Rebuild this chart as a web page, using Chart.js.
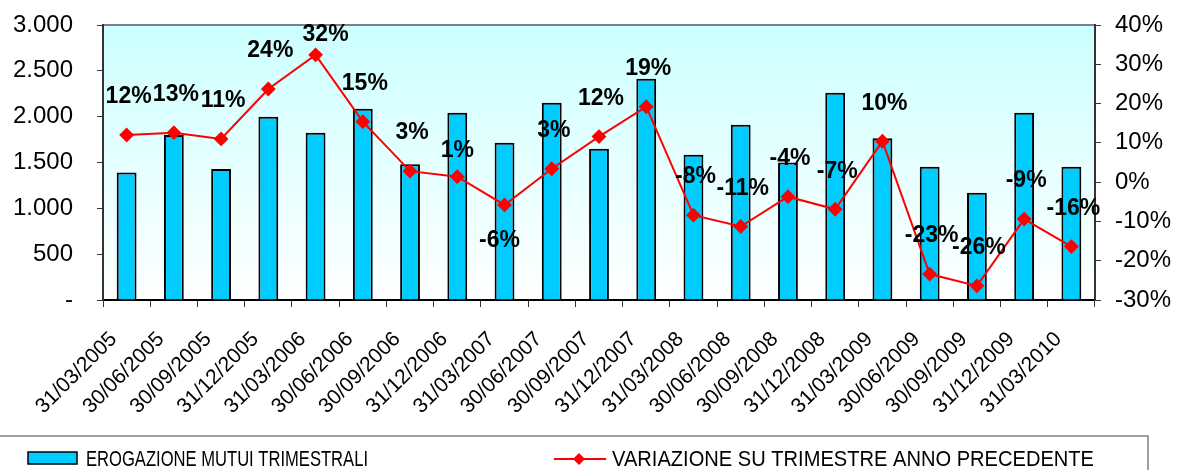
<!DOCTYPE html>
<html>
<head>
<meta charset="utf-8">
<script src="https://cdn.jsdelivr.net/npm/chart.js@4"></script>
<style>
  body { margin: 0; background: #fff; }
  #wrap { width: 1177px; height: 470px; }
</style>
</head>
<body>
<div id="wrap"><canvas id="chart"></canvas></div>
<script>
// dati
const trimestri = ["31/03/2005","30/06/2005","30/09/2005","31/12/2005","31/03/2006","30/06/2006",
  "30/09/2006","31/12/2006","31/03/2007","30/06/2007","30/09/2007","31/12/2007","31/03/2008",
  "30/06/2008","30/09/2008","31/12/2008","31/03/2009","30/06/2009","30/09/2009","31/12/2009","31/03/2010"];
const erogazioni = [1390, 1800, 1430, 2000, 1825, 2087, 1480, 2043, 1716, 2152, 1651, 2414, 1585,
  1912, 1500, 2261, 1764, 1455, 1171, 2043, 1455];
const variazioni = [12.0, 12.6, 11.0, 23.7, 32.4, 15.4, 2.8, 1.4, -5.8, 3.4, 11.6, 19.2, -8.4,
  -11.3, -3.7, -6.9, 10.4, -23.4, -26.4, -9.4, -16.4];
const tickSinistra = [0, 500, 1000, 1500, 2000, 2500, 3000];
const tickDestra = [-30, -20, -10, 0, 10, 20, 30, 40];

const nomeBarre = "EROGAZIONE MUTUI TRIMESTRALI";
const nomeLinea = "VARIAZIONE SU TRIMESTRE ANNO PRECEDENTE";

// spostamento etichette (default sopra il punto)
const spostaEtichetta = { 4: [10, -20], 7: [0, -26], 8: [-5, 36] };

function migliaia(v) {
  if (v === 0) return "-";
  return String(v).replace(/\B(?=(\d{3})+(?!\d))/g, ".");
}

// testo compresso in larghezza
function testoStretto(ctx, txt, x, y, larghezza) {
  const w = ctx.measureText(txt).width;
  ctx.save();
  ctx.translate(x, y);
  ctx.scale(larghezza / w, 1);
  ctx.fillText(txt, 0, 0);
  ctx.restore();
}

// sfondo area grafico
const sfondo = {
  id: "sfondo",
  beforeDraw(chart) {
    const { ctx, chartArea: a } = chart;
    const g = ctx.createLinearGradient(0, a.top, 0, a.bottom);
    g.addColorStop(0, "#CCFFFF");
    g.addColorStop(1, "#FFFFFF");
    ctx.save();
    ctx.fillStyle = g;
    ctx.fillRect(a.left, a.top, a.right - a.left, a.bottom - a.top);
    ctx.strokeStyle = "#808080";
    ctx.lineWidth = 2;
    ctx.beginPath();
    ctx.moveTo(a.left, a.top);
    ctx.lineTo(a.right, a.top);
    ctx.stroke();
    ctx.restore();
  }
};

// etichette percentuali
const etichette = {
  id: "etichette",
  afterDatasetsDraw(chart) {
    const { ctx } = chart;
    const meta = chart.getDatasetMeta(1);
    ctx.save();
    ctx.font = "bold 23px Arial, 'Liberation Sans', sans-serif";
    ctx.fillStyle = "#000";
    ctx.textAlign = "center";
    ctx.textBaseline = "middle";
    meta.data.forEach((p, i) => {
      const [dx, dy] = spostaEtichetta[i] || [2, -38];
      ctx.fillText(Math.round(variazioni[i]) + "%", p.x + dx, p.y + dy);
    });
    ctx.restore();
  }
};

// legenda in basso
const legenda = {
  id: "legenda",
  afterDraw(chart) {
    const { ctx } = chart;
    ctx.save();
    ctx.strokeStyle = "#808080";
    ctx.lineWidth = 1.5;
    ctx.beginPath();
    ctx.moveTo(0, 436);
    ctx.lineTo(1148, 436);
    ctx.lineTo(1148, 470);
    ctx.stroke();

    ctx.fillStyle = "#00CCFF";
    ctx.fillRect(28, 452, 49, 12);
    ctx.strokeStyle = "#000";
    ctx.lineWidth = 1.5;
    ctx.strokeRect(28, 452, 49, 12);

    ctx.strokeStyle = "#FF0000";
    ctx.lineWidth = 2;
    ctx.beginPath();
    ctx.moveTo(554, 459);
    ctx.lineTo(606, 459);
    ctx.stroke();
    ctx.fillStyle = "#FF0000";
    ctx.beginPath();
    ctx.moveTo(579, 453); ctx.lineTo(585, 459); ctx.lineTo(579, 465); ctx.lineTo(573, 459);
    ctx.closePath();
    ctx.fill();

    ctx.fillStyle = "#000";
    ctx.font = "22px Arial, 'Liberation Sans', sans-serif";
    ctx.textBaseline = "alphabetic";
    testoStretto(ctx, nomeBarre, 86, 466, 282);
    testoStretto(ctx, nomeLinea, 612, 466, 482);
    ctx.restore();
  }
};

function larghezzaFissa(w) {
  return s => { s.width = w; s.paddingTop = 0; s.paddingBottom = 0; };
}

new Chart(document.getElementById("chart"), {
  type: "bar",
  data: {
    labels: trimestri,
    datasets: [
      { type: "bar", label: nomeBarre, data: erogazioni, yAxisID: "y",
        backgroundColor: "#00CCFF", borderColor: "#000", borderWidth: 2,
        barPercentage: 0.42, categoryPercentage: 1, order: 2 },
      { type: "line", label: nomeLinea, data: variazioni, yAxisID: "y1",
        borderColor: "#FF0000", borderWidth: 2, pointStyle: "rectRot",
        pointRadius: 6, pointBackgroundColor: "#FF0000", pointBorderColor: "#FF0000",
        tension: 0, order: 1 }
    ]
  },
  options: {
    responsive: true,
    maintainAspectRatio: false,
    animation: false,
    layout: { padding: { top: 25 } },
    plugins: { legend: { display: false }, tooltip: { enabled: false } },
    scales: {
      x: {
        afterFit: s => { s.height = 170; s.paddingLeft = 0; s.paddingRight = 0; },
        grid: { offset: true, drawOnChartArea: false, tickLength: 7, color: "#333", lineWidth: 1 },
        border: { color: "#000", width: 2 },
        ticks: { color: "#000", font: { family: "Arial, 'Liberation Sans', sans-serif", size: 21 },
                 maxRotation: 45, minRotation: 45, autoSkip: false, padding: 20, labelOffset: -13 }
      },
      y: {
        position: "left", min: 0, max: 3000,
        afterFit: larghezzaFissa(103),
        afterBuildTicks: s => { s.ticks = tickSinistra.map(v => ({ value: v })); },
        grid: { drawOnChartArea: false, tickLength: 6, color: "#333" },
        border: { color: "#333", width: 2 },
        ticks: { color: "#000", font: { family: "Arial, 'Liberation Sans', sans-serif", size: 24 },
                 padding: 24, callback: v => migliaia(v) }
      },
      y1: {
        position: "right", min: -30, max: 40,
        afterFit: larghezzaFissa(82),
        afterBuildTicks: s => { s.ticks = tickDestra.map(v => ({ value: v })); },
        grid: { drawOnChartArea: false, tickLength: 6, color: "#333" },
        border: { color: "#333", width: 2 },
        ticks: { color: "#000", font: { family: "Arial, 'Liberation Sans', sans-serif", size: 24 },
                 padding: 14, callback: v => v + "%" }
      }
    }
  },
  plugins: [sfondo, etichette, legenda]
});
</script>
</body>
</html>
